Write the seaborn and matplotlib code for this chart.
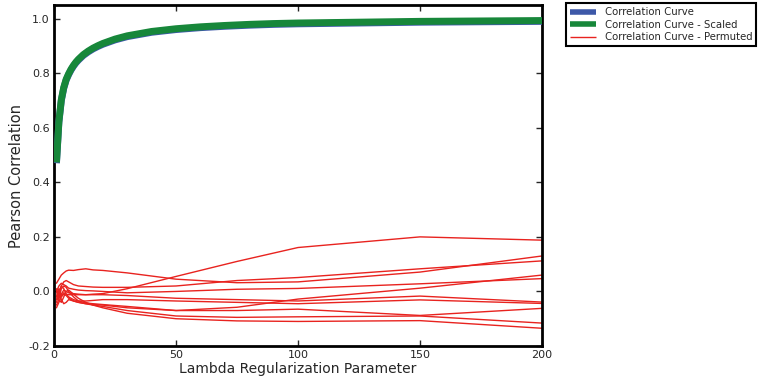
import matplotlib
matplotlib.use("Agg")
import matplotlib.pyplot as plt
import seaborn as sns
import numpy as np
import pandas as pd

# ---- data ----
lambdas = [1, 2, 3, 4, 5, 6, 7, 8, 9, 10, 12, 14, 16, 18, 20, 25, 30, 40, 50, 60, 70, 80, 90, 100, 150, 200]
corr_curve = [0.47, 0.62, 0.70, 0.745, 0.775, 0.795, 0.812, 0.826, 0.838, 0.848, 0.865, 0.878, 0.889, 0.898, 0.906,
              0.922, 0.934, 0.950, 0.960, 0.967, 0.972, 0.976, 0.979, 0.981, 0.987, 0.990]
corr_scaled = [0.473, 0.623, 0.703, 0.748, 0.778, 0.798, 0.815, 0.829, 0.841, 0.851, 0.868, 0.881, 0.892, 0.901, 0.909,
               0.925, 0.937, 0.953, 0.963, 0.970, 0.975, 0.979, 0.982, 0.984, 0.990, 0.993]

lambdas_perm = [1, 2, 3, 4, 5, 6, 8, 10, 13, 16, 20, 30, 50, 75, 100, 150, 200]
perm_1 = [-0.02, 0.01, -0.015, -0.005, -0.01, -0.012, -0.012, -0.012, -0.012, -0.01, -0.008, 0.01, 0.055, 0.11, 0.161, 0.200, 0.188]
perm_2 = [0.03, 0.045, 0.06, 0.068, 0.075, 0.078, 0.077, 0.08, 0.083, 0.079, 0.077, 0.068, 0.045, 0.032, 0.035, 0.071, 0.130]
perm_3 = [-0.03, 0.0, 0.02, 0.035, 0.04, 0.035, 0.025, 0.02, 0.018, 0.016, 0.015, 0.015, 0.02, 0.04, 0.051, 0.083, 0.112]
perm_4 = [0.0, 0.02, 0.03, 0.025, 0.02, 0.012, 0.008, 0.005, 0.003, 0.002, 0.0, -0.005, 0.0, 0.008, 0.011, 0.028, 0.047]
perm_5 = [-0.05, -0.03, 0.01, 0.02, 0.015, 0.0, -0.02, -0.035, -0.042, -0.045, -0.048, -0.055, -0.07, -0.058, -0.028, 0.012, 0.060]
perm_6 = [0.01, -0.02, -0.01, 0.005, 0.0, -0.005, -0.008, -0.01, -0.012, -0.012, -0.012, -0.015, -0.025, -0.03, -0.035, -0.017, -0.039]
perm_7 = [-0.04, -0.01, 0.02, 0.01, -0.01, -0.02, -0.03, -0.035, -0.035, -0.033, -0.03, -0.03, -0.035, -0.04, -0.045, -0.031, -0.044]
perm_8 = [-0.06, -0.04, -0.02, -0.01, -0.015, -0.025, -0.035, -0.04, -0.045, -0.048, -0.05, -0.06, -0.07, -0.07, -0.065, -0.088, -0.062]
perm_9 = [0.0, -0.03, -0.04, -0.02, 0.0, 0.005, -0.01, -0.025, -0.04, -0.05, -0.055, -0.07, -0.09, -0.095, -0.093, -0.090, -0.116]
perm_10 = [-0.02, 0.0, -0.03, -0.045, -0.04, -0.03, -0.035, -0.04, -0.045, -0.05, -0.06, -0.08, -0.10, -0.108, -0.110, -0.107, -0.135]
perm_series = [perm_1, perm_2, perm_3, perm_4, perm_5, perm_6, perm_7, perm_8, perm_9, perm_10]

labels = ["Correlation Curve", "Correlation Curve - Scaled", "Correlation Curve - Permuted"]
x_ticks = [0, 50, 100, 150, 200]
y_ticks = [-0.2, 0.0, 0.2, 0.4, 0.6, 0.8, 1.0]

# ---- plot ----
sns.set_style("white")
plt.rcParams['font.family'] = ['DejaVu Sans']

fig = plt.figure(figsize=(7.59, 3.79), dpi=100)
ax = fig.add_axes([54 / 759, 1 - 346 / 379, (542 - 54) / 759, (346 - 5) / 379])

blue = "#3d58a8"
green = "#17873a"
red = "#e8231f"

for i, s in enumerate(perm_series):
    sns.lineplot(x=lambdas_perm, y=s, ax=ax, color=red, lw=1.0, estimator=None, sort=False,
                 label=labels[2] if i == 0 else None, legend=False, zorder=2)
sns.lineplot(x=lambdas, y=corr_curve, ax=ax, color=blue, lw=5, estimator=None, sort=False,
             label=labels[0], legend=False, zorder=3, solid_capstyle="butt")
sns.lineplot(x=lambdas, y=corr_scaled, ax=ax, color=green, lw=5, estimator=None, sort=False,
             label=labels[1], legend=False, zorder=4, solid_capstyle="butt")

ax.set_xlim(0, 200)
ax.set_ylim(-0.2, 1.05)
ax.set_xticks(x_ticks)
ax.set_yticks(y_ticks)
ax.set_xticklabels([str(t) for t in x_ticks], fontsize=8)
ax.set_yticklabels([f"{t:.1f}" for t in y_ticks], fontsize=8)
ax.tick_params(direction="in", length=4, width=1, top=True, right=True, bottom=True, left=True, pad=3)
for sp in ax.spines.values():
    sp.set_visible(True)
    sp.set_color("black")
    sp.set_linewidth(2)

ax.set_xlabel("Lambda Regularization Parameter", fontsize=10, labelpad=1)
ax.set_ylabel("Pearson Correlation", fontsize=10.5, labelpad=3)

handles, labs = ax.get_legend_handles_labels()
order = [labs.index(l) for l in labels]
leg = ax.legend([handles[i] for i in order], [labs[i] for i in order],
                loc="upper left", bbox_to_anchor=(566 / 759, 1 - 3 / 379), bbox_transform=fig.transFigure,
                fontsize=7.3, frameon=True, fancybox=False, borderaxespad=0, handlelength=2.6,
                handletextpad=0.8, borderpad=0.4, labelspacing=0.25)
leg.get_frame().set_edgecolor("black")
leg.get_frame().set_linewidth(1.5)
leg.get_frame().set_alpha(1)
for ln in leg.get_lines():
    ln.set_solid_capstyle("butt")
leg.get_lines()[0].set_linewidth(4)
leg.get_lines()[1].set_linewidth(4)

fig.savefig("out.png", dpi=100)
